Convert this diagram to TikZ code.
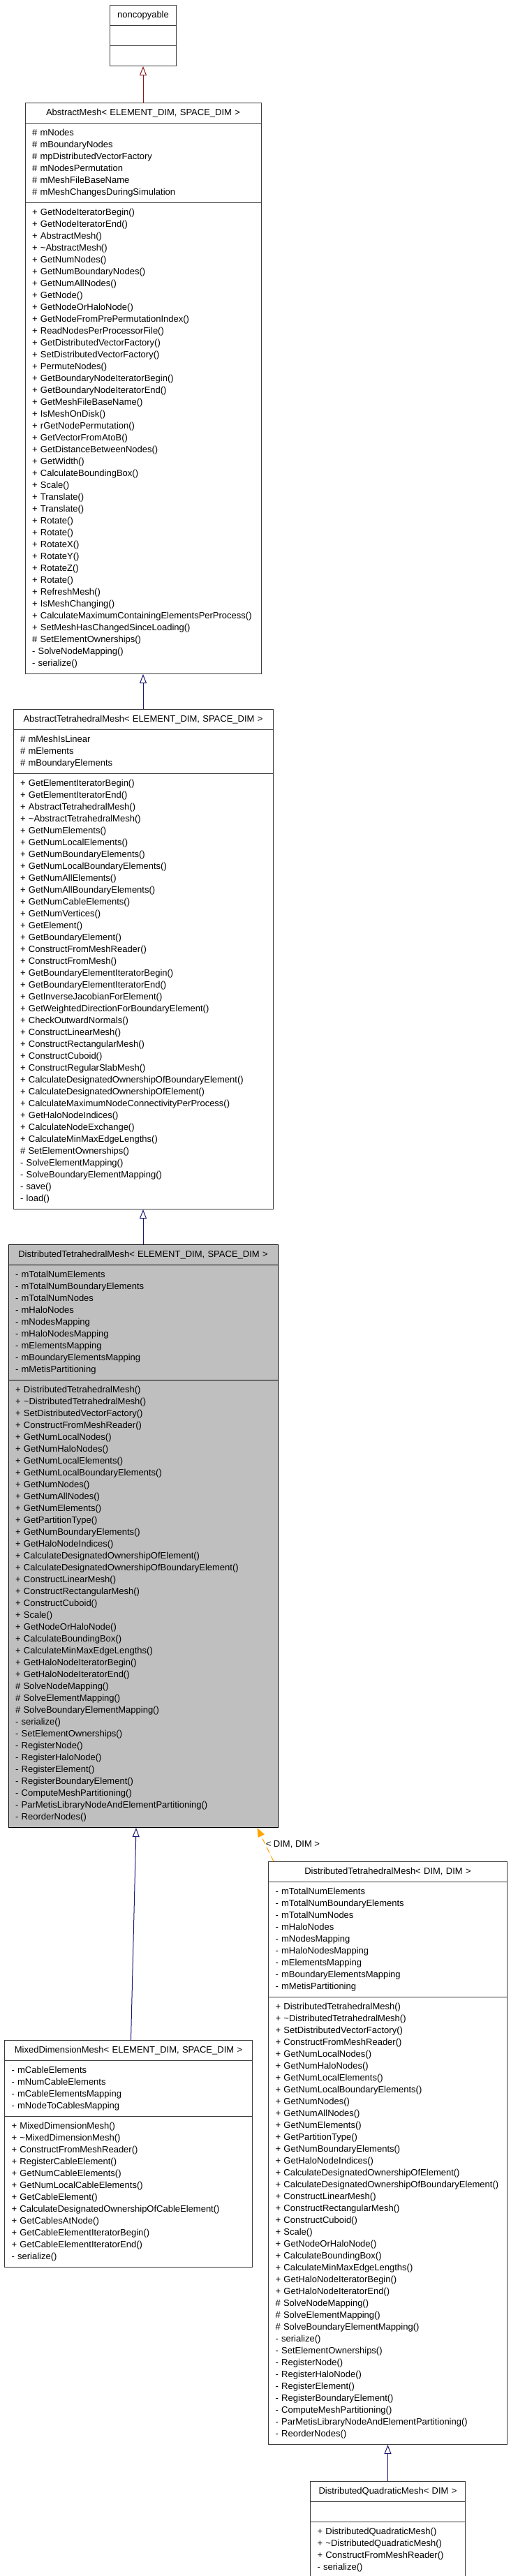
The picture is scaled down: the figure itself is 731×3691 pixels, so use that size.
\documentclass[tikz,border=0pt]{standalone}
\usepackage{fontspec}
\setmainfont{Liberation Sans}
\usepackage{tikz}
\usetikzlibrary{shapes.multipart,arrows.meta,positioning,calc}
\definecolor{publicBlue}{RGB}{25,25,112}
\definecolor{privateRed}{RGB}{139,26,26}
\definecolor{templOrange}{RGB}{255,165,0}
\definecolor{classGrey}{RGB}{191,191,191}
\definecolor{borderGrey}{RGB}{60,60,60}
\newcommand{\umlfont}{\fontsize{13pt}{17pt}\selectfont}
\newcommand{\classname}[1]{\makebox[\hsize]{\strut #1}}

\begin{document}
\begin{tikzpicture}[x=1pt, y=-1pt,
    umlclass/.style={rectangle split, rectangle split parts=3, draw=borderGrey, line width=1pt, fill=white, inner xsep=10pt, inner ysep=5.5pt, align=left, font=\umlfont},
    inherit/.style={-{Triangle[open,length=13pt,width=10pt]}, line width=1pt, draw=publicBlue},
    inheritPriv/.style={-{Triangle[open,length=13pt,width=10pt]}, line width=1pt, draw=privateRed},
    templ/.style={-{Triangle[length=13pt,width=10pt]}, line width=1pt, draw=templOrange, fill=templOrange, dash pattern=on 8pt off 6pt}]
    \useasboundingbox (0,0) rectangle (731,3691);

    \node [umlclass, text width=75pt, anchor=north west] (noncopy) at (157,7) {\classname{noncopyable} \nodepart{two}\strut \nodepart{three}\strut};

    \node [umlclass, text width=318pt, below=52pt of noncopy] (absmesh) {\classname{AbstractMesh< ELEMENT\_DIM, SPACE\_DIM >}
    \nodepart{two}\strut\# mNodes\\ \# mBoundaryNodes\\ \# mpDistributedVectorFactory\\ \# mNodesPermutation\\ \# mMeshFileBaseName\\ \# mMeshChangesDuringSimulation\strut
    \nodepart{three}\strut+ GetNodeIteratorBegin()\\ + GetNodeIteratorEnd()\\ + AbstractMesh()\\ + \textasciitilde AbstractMesh()\\ + GetNumNodes()\\ + GetNumBoundaryNodes()\\ + GetNumAllNodes()\\ + GetNode()\\ + GetNodeOrHaloNode()\\ + GetNodeFromPrePermutationIndex()\\ + ReadNodesPerProcessorFile()\\ + GetDistributedVectorFactory()\\ + SetDistributedVectorFactory()\\ + PermuteNodes()\\ + GetBoundaryNodeIteratorBegin()\\ + GetBoundaryNodeIteratorEnd()\\ + GetMeshFileBaseName()\\ + IsMeshOnDisk()\\ + rGetNodePermutation()\\ + GetVectorFromAtoB()\\ + GetDistanceBetweenNodes()\\ + GetWidth()\\ + CalculateBoundingBox()\\ + Scale()\\ + Translate()\\ + Translate()\\ + Rotate()\\ + Rotate()\\ + RotateX()\\ + RotateY()\\ + RotateZ()\\ + Rotate()\\ + RefreshMesh()\\ + IsMeshChanging()\\ + CalculateMaximumContainingElementsPerProcess()\\ + SetMeshHasChangedSinceLoading()\\ \# SetElementOwnerships()\\ - SolveNodeMapping()\\ - serialize()\strut};

    \node [umlclass, text width=352pt, below=50pt of absmesh] (tetmesh) {\classname{AbstractTetrahedralMesh< ELEMENT\_DIM, SPACE\_DIM >}
    \nodepart{two}\strut\# mMeshIsLinear\\ \# mElements\\ \# mBoundaryElements\strut
    \nodepart{three}\strut+ GetElementIteratorBegin()\\ + GetElementIteratorEnd()\\ + AbstractTetrahedralMesh()\\ + \textasciitilde AbstractTetrahedralMesh()\\ + GetNumElements()\\ + GetNumLocalElements()\\ + GetNumBoundaryElements()\\ + GetNumLocalBoundaryElements()\\ + GetNumAllElements()\\ + GetNumAllBoundaryElements()\\ + GetNumCableElements()\\ + GetNumVertices()\\ + GetElement()\\ + GetBoundaryElement()\\ + ConstructFromMeshReader()\\ + ConstructFromMesh()\\ + GetBoundaryElementIteratorBegin()\\ + GetBoundaryElementIteratorEnd()\\ + GetInverseJacobianForElement()\\ + GetWeightedDirectionForBoundaryElement()\\ + CheckOutwardNormals()\\ + ConstructLinearMesh()\\ + ConstructRectangularMesh()\\ + ConstructCuboid()\\ + ConstructRegularSlabMesh()\\ + CalculateDesignatedOwnershipOfBoundaryElement()\\ + CalculateDesignatedOwnershipOfElement()\\ + CalculateMaximumNodeConnectivityPerProcess()\\ + GetHaloNodeIndices()\\ + CalculateNodeExchange()\\ + CalculateMinMaxEdgeLengths()\\ \# SetElementOwnerships()\\ - SolveElementMapping()\\ - SolveBoundaryElementMapping()\\ - save()\\ - load()\strut};

    \node [umlclass, fill=classGrey, draw=black, text width=366pt, below=50pt of tetmesh] (disttet) {\classname{DistributedTetrahedralMesh< ELEMENT\_DIM, SPACE\_DIM >}
    \nodepart{two}\strut- mTotalNumElements\\ - mTotalNumBoundaryElements\\ - mTotalNumNodes\\ - mHaloNodes\\ - mNodesMapping\\ - mHaloNodesMapping\\ - mElementsMapping\\ - mBoundaryElementsMapping\\ - mMetisPartitioning\strut
    \nodepart{three}\strut+ DistributedTetrahedralMesh()\\ + \textasciitilde DistributedTetrahedralMesh()\\ + SetDistributedVectorFactory()\\ + ConstructFromMeshReader()\\ + GetNumLocalNodes()\\ + GetNumHaloNodes()\\ + GetNumLocalElements()\\ + GetNumLocalBoundaryElements()\\ + GetNumNodes()\\ + GetNumAllNodes()\\ + GetNumElements()\\ + GetPartitionType()\\ + GetNumBoundaryElements()\\ + GetHaloNodeIndices()\\ + CalculateDesignatedOwnershipOfElement()\\ + CalculateDesignatedOwnershipOfBoundaryElement()\\ + ConstructLinearMesh()\\ + ConstructRectangularMesh()\\ + ConstructCuboid()\\ + Scale()\\ + GetNodeOrHaloNode()\\ + CalculateBoundingBox()\\ + CalculateMinMaxEdgeLengths()\\ + GetHaloNodeIteratorBegin()\\ + GetHaloNodeIteratorEnd()\\ \# SolveNodeMapping()\\ \# SolveElementMapping()\\ \# SolveBoundaryElementMapping()\\ - serialize()\\ - SetElementOwnerships()\\ - RegisterNode()\\ - RegisterHaloNode()\\ - RegisterElement()\\ - RegisterBoundaryElement()\\ - ComputeMeshPartitioning()\\ - ParMetisLibraryNodeAndElementPartitioning()\\ - ReorderNodes()\strut};

    \node [umlclass, text width=335pt, anchor=north west] (mixmesh) at (6,2923) {\classname{MixedDimensionMesh< ELEMENT\_DIM, SPACE\_DIM >}
    \nodepart{two}\strut- mCableElements\\ - mNumCableElements\\ - mCableElementsMapping\\ - mNodeToCablesMapping\strut
    \nodepart{three}\strut+ MixedDimensionMesh()\\ + \textasciitilde MixedDimensionMesh()\\ + ConstructFromMeshReader()\\ + RegisterCableElement()\\ + GetNumCableElements()\\ + GetNumLocalCableElements()\\ + GetCableElement()\\ + CalculateDesignatedOwnershipOfCableElement()\\ + GetCablesAtNode()\\ + GetCableElementIteratorBegin()\\ + GetCableElementIteratorEnd()\\ - serialize()\strut};

    \node [umlclass, text width=322pt, anchor=north west] (disttetdd) at (384,2667) {\classname{DistributedTetrahedralMesh< DIM, DIM >}
    \nodepart{two}\strut- mTotalNumElements\\ - mTotalNumBoundaryElements\\ - mTotalNumNodes\\ - mHaloNodes\\ - mNodesMapping\\ - mHaloNodesMapping\\ - mElementsMapping\\ - mBoundaryElementsMapping\\ - mMetisPartitioning\strut
    \nodepart{three}\strut+ DistributedTetrahedralMesh()\\ + \textasciitilde DistributedTetrahedralMesh()\\ + SetDistributedVectorFactory()\\ + ConstructFromMeshReader()\\ + GetNumLocalNodes()\\ + GetNumHaloNodes()\\ + GetNumLocalElements()\\ + GetNumLocalBoundaryElements()\\ + GetNumNodes()\\ + GetNumAllNodes()\\ + GetNumElements()\\ + GetPartitionType()\\ + GetNumBoundaryElements()\\ + GetHaloNodeIndices()\\ + CalculateDesignatedOwnershipOfElement()\\ + CalculateDesignatedOwnershipOfBoundaryElement()\\ + ConstructLinearMesh()\\ + ConstructRectangularMesh()\\ + ConstructCuboid()\\ + Scale()\\ + GetNodeOrHaloNode()\\ + CalculateBoundingBox()\\ + CalculateMinMaxEdgeLengths()\\ + GetHaloNodeIteratorBegin()\\ + GetHaloNodeIteratorEnd()\\ \# SolveNodeMapping()\\ \# SolveElementMapping()\\ \# SolveBoundaryElementMapping()\\ - serialize()\\ - SetElementOwnerships()\\ - RegisterNode()\\ - RegisterHaloNode()\\ - RegisterElement()\\ - RegisterBoundaryElement()\\ - ComputeMeshPartitioning()\\ - ParMetisLibraryNodeAndElementPartitioning()\\ - ReorderNodes()\strut};

    \node [umlclass, text width=202pt, below=52pt of disttetdd] (quadmesh) {\classname{DistributedQuadraticMesh< DIM >}
    \nodepart{two}\strut
    \nodepart{three}\strut+ DistributedQuadraticMesh()\\ + \textasciitilde DistributedQuadraticMesh()\\ + ConstructFromMeshReader()\\ - serialize()\strut};

    % inheritance
    \draw [inheritPriv] (absmesh.north) -- (noncopy.south);
    \draw [inherit] (tetmesh.north) -- (absmesh.south);
    \draw [inherit] (disttet.north) -- (tetmesh.south);
    \draw [inherit] ($(mixmesh.north)+(3.5,0)$) -- ($(disttet.south)+(-10,0)$);
    \draw [templ] ($(disttetdd.north west)+(8,0)$) -- node [midway, anchor=west, inner sep=0pt, font=\umlfont, text=black] {< DIM, DIM >} ($(disttet.south east)+(-30,0)$);
    \draw [inherit] (quadmesh.north) -- (disttetdd.south);
\end{tikzpicture}
\end{document}
